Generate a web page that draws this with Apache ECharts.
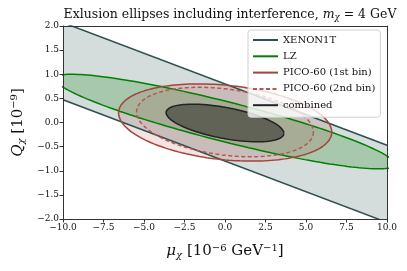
<!DOCTYPE html>
<html>
<head>
<meta charset="utf-8">
<script src="https://cdn.jsdelivr.net/npm/echarts@6/dist/echarts.min.js"></script>
<style>
  html, body { margin: 0; padding: 0; background: #fff; }
  #chart { width: 407px; height: 271px; }
</style>
</head>
<body>
<div id="chart"></div>
<script>
// tick labels
const xTickLabels = ['−10.0', '−7.5', '−5.0', '−2.5', '0.0', '2.5', '5.0', '7.5', '10.0'];
const yTickLabels = ['−2.0', '−1.5', '−1.0', '−0.5', '0.0', '0.5', '1.0', '1.5', '2.0'];

// XENON1T band edges, [mu, Q] at the two ends
const xenonUpper = [[-10, 2.07], [10, -0.47]];
const xenonLower = [[-10, 0.47], [10, -2.07]];

// ellipses: [centre mu, centre Q, half width in mu, half height in Q, tilt phase]
const lzEllipse = [0, 0.02, 10.5, 0.98, 2.694];
const pico1Ellipse = [0.01, 0, 6.58, 0.80, 1.823];
const pico2Ellipse = [0, 0.01, 5.46, 0.72, 1.865];
const combinedEllipse = [0, -0.01, 3.64, 0.39, 2.153];

const FONT = 'DejaVu Serif';

function outline(e) {
  const pts = [];
  for (let i = 0; i <= 180; i++) {
    const t = i / 180 * 2 * Math.PI;
    pts.push([e[0] + e[2] * Math.cos(t), e[1] + e[3] * Math.cos(t + e[4])]);
  }
  return pts;
}

// filled polygon through the axes, clipped by the grid
function fill(name, pts, color) {
  return {
    name: name + ' fill',
    type: 'custom',
    clip: true,
    silent: true,
    z: 2,
    data: [0],
    renderItem: function (params, api) {
      return {
        type: 'polygon',
        shape: { points: pts.map(p => api.coord(p)) },
        style: { fill: color, stroke: null }
      };
    }
  };
}

function line(name, pts, color, dash, z) {
  return {
    name: name,
    type: 'line',
    data: pts,
    showSymbol: false,
    symbol: 'none',
    clip: true,
    z: z,
    lineStyle: { color: color, width: 1.5, type: dash || 'solid' },
    itemStyle: { color: color }
  };
}

const lzPts = outline(lzEllipse);
const pico1Pts = outline(pico1Ellipse);
const pico2Pts = outline(pico2Ellipse);
const combPts = outline(combinedEllipse);

const axisName = {
  fontFamily: FONT, fontSize: 15, color: '#111',
  rich: {
    i: { fontFamily: FONT, fontSize: 15, fontStyle: 'italic', color: '#111' },
    s: { fontFamily: FONT, fontSize: 10, fontStyle: 'italic', color: '#111', verticalAlign: 'bottom', padding: [7, 0, 0, 0] },
    p: { fontFamily: FONT, fontSize: 10, color: '#111', verticalAlign: 'top', padding: [0, 0, 7, 0] }
  }
};

const chart = echarts.init(document.getElementById('chart'));

chart.setOption({
  animation: false,
  title: {
    text: 'Exlusion ellipses including interference, {i|m}{s|χ} = 4 GeV',
    left: 225,
    textAlign: 'center',
    top: 3,
    textStyle: {
      fontFamily: FONT, fontSize: 12.5, fontWeight: 'normal', color: '#111',
      rich: {
        i: { fontFamily: FONT, fontSize: 12.5, fontStyle: 'italic', color: '#111' },
        s: { fontFamily: FONT, fontSize: 8.5, fontStyle: 'italic', color: '#111', verticalAlign: 'bottom', padding: [5, 0, 0, 0] }
      }
    }
  },
  legend: {
    data: ['XENON1T', 'LZ', 'PICO-60 (1st bin)', 'PICO-60 (2nd bin)', 'combined'],
    orient: 'vertical',
    left: 248,
    top: 30,
    itemWidth: 25,
    itemHeight: 10,
    itemGap: 6.3,
    padding: [5, 5, 7, 4],
    backgroundColor: 'rgba(255,255,255,0.8)',
    borderColor: '#d0d0d0',
    borderWidth: 1,
    borderRadius: 3,
    itemStyle: { opacity: 0 },
    textStyle: { fontFamily: FONT, fontSize: 10, color: '#111', lineHeight: 10 }
  },
  grid: { left: 63, right: 20, top: 26, bottom: 52 },
  xAxis: [{
    type: 'value', min: -10, max: 10, interval: 2.5, z: 5,
    axisLine: { onZero: false, lineStyle: { color: '#333', width: 1 } },
    axisTick: { length: 3.5, lineStyle: { color: '#333' } },
    splitLine: { show: false },
    axisLabel: {
      fontFamily: FONT, fontSize: 9, color: '#111', margin: 4,
      formatter: (v, i) => xTickLabels[i]
    },
    name: '{i|μ}{s|χ} [10{p|−6} GeV{p|−1}]',
    nameLocation: 'middle',
    nameGap: 24,
    nameTextStyle: axisName
  }, {
    type: 'value', min: -10, max: 10, position: 'top', z: 5,
    axisLine: { onZero: false, lineStyle: { color: '#333', width: 1 } },
    axisTick: { show: false }, axisLabel: { show: false }, splitLine: { show: false }
  }],
  yAxis: [{
    type: 'value', min: -2, max: 2, interval: 0.5, z: 5,
    axisLine: { onZero: false, lineStyle: { color: '#333', width: 1 } },
    axisTick: { length: 3.5, lineStyle: { color: '#333' } },
    splitLine: { show: false },
    axisLabel: {
      fontFamily: FONT, fontSize: 9, color: '#111', margin: 4,
      formatter: (v, i) => yTickLabels[i]
    },
    name: '{i|Q}{s|χ} [10{p|−9}]',
    nameLocation: 'middle',
    nameGap: 34,
    nameTextStyle: axisName
  }, {
    type: 'value', min: -2, max: 2, position: 'right', z: 5,
    axisLine: { onZero: false, lineStyle: { color: '#333', width: 1 } },
    axisTick: { show: false }, axisLabel: { show: false }, splitLine: { show: false }
  }],
  series: [
    fill('XENON1T', [xenonUpper[0], xenonUpper[1], xenonLower[1], xenonLower[0]], 'rgba(47,79,79,0.2)'),
    line('XENON1T', xenonUpper, '#2f4f4f', null, 3),
    line('XENON1T', xenonLower, '#2f4f4f', null, 3),
    fill('LZ', lzPts, 'rgba(0,128,0,0.22)'),
    line('LZ', lzPts, '#008000', null, 3),
    fill('PICO-60 (1st bin)', pico1Pts, 'rgba(165,42,42,0.13)'),
    line('PICO-60 (1st bin)', pico1Pts, '#a0453c', null, 3),
    fill('PICO-60 (2nd bin)', pico2Pts, 'rgba(165,42,42,0.05)'),
    line('PICO-60 (2nd bin)', pico2Pts, '#b05a50', [4, 2.5], 3),
    fill('combined', combPts, 'rgba(0,0,0,0.42)'),
    line('combined', combPts, '#222', null, 3)
  ]
});
</script>
</body>
</html>
